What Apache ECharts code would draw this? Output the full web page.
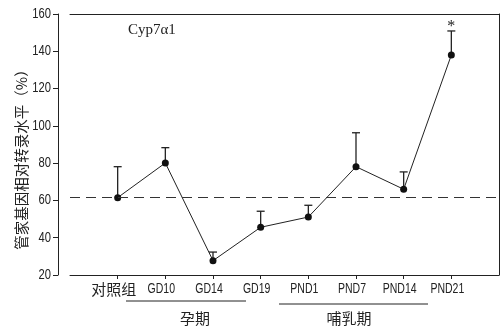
<!DOCTYPE html>
<html>
<head>
<meta charset="utf-8">
<script src="https://cdn.jsdelivr.net/npm/echarts@6/dist/echarts.min.js"></script>
<style>html,body{margin:0;padding:0;background:#fff}#c{width:503px;height:327px}</style>
</head>
<body>
<div id="c"></div>
<script>
var categories = ['对照组', 'GD10', 'GD14', 'GD19', 'PND1', 'PND7', 'PND14', 'PND21'];
var meanValues = [61.5, 80.1, 27.7, 45.6, 51.1, 78.1, 66.0, 138.0];
var upperValues = [78.1, 88.3, 32.3, 54.2, 57.4, 96.3, 75.3, 150.9];
var significance = ['', '', '', '', '', '', '', '*'];
var referenceLevel = 61.6;
var yTicks = [20, 40, 60, 80, 100, 120, 140, 160];

var chart = echarts.init(document.getElementById('c'), null, {renderer: 'canvas'});
var idx = categories.map(function (c, i) { return i; });
var lineData = idx.map(function (i) { return [i, meanValues[i]]; });
var errData = idx.map(function (i) { return [i, meanValues[i], upperValues[i]]; });
var ink = '#222';
var cjk = '"Noto Sans CJK SC", sans-serif';
var sans = '"Liberation Sans", sans-serif';

var baseGraphics = [
  {type: 'text', x: 128, y: 30, style: {text: 'Cyp7α1', fontSize: 15, fontFamily: '"Liberation Serif", serif', fill: ink, verticalAlign: 'middle'}},
  {type: 'text', x: 21, y: 156, rotation: Math.PI / 2,
    style: {text: '管家基因相对转录水平（%）', fontSize: 14.5, fontFamily: cjk, fill: ink, align: 'center', verticalAlign: 'middle'}},
  {type: 'line', shape: {x1: 126, y1: 301, x2: 246, y2: 301}, style: {stroke: ink, lineWidth: 1}},
  {type: 'line', shape: {x1: 279, y1: 304, x2: 428, y2: 304}, style: {stroke: ink, lineWidth: 1}},
  {type: 'text', x: 195, y: 318, style: {text: '孕期', fontSize: 15, fontFamily: cjk, fill: ink, align: 'center', verticalAlign: 'middle'}},
  {type: 'text', x: 349, y: 318, style: {text: '哺乳期', fontSize: 15, fontFamily: cjk, fill: ink, align: 'center', verticalAlign: 'middle'}}
];

var option = {
  animation: false,
  backgroundColor: '#fff',
  grid: {left: 70, right: 4, top: 14, bottom: 52},
  xAxis: [{
    type: 'value', min: -1, max: 8, interval: 1,
    splitLine: {show: false},
    axisLine: {show: true, onZero: false, lineStyle: {color: ink, width: 1}},
    axisTick: {show: true, length: 4, inside: false, customValues: idx, lineStyle: {color: ink}},
    axisLabel: {show: false}
  }, {
    type: 'value', min: -1, max: 8, position: 'top',
    splitLine: {show: false},
    axisLine: {show: true, onZero: false, lineStyle: {color: ink, width: 1}},
    axisTick: {show: false}, axisLabel: {show: false}
  }],
  yAxis: [{
    type: 'value', min: 20, max: 160, interval: 20, offset: 12, position: 'left',
    splitLine: {show: false},
    axisLine: {show: true, onZero: false, lineStyle: {color: ink, width: 1}},
    axisTick: {show: true, length: 5, lineStyle: {color: ink}},
    axisLabel: {show: false}
  }, {
    type: 'value', min: 20, max: 160, position: 'right',
    splitLine: {show: false},
    axisLine: {show: true, onZero: false, lineStyle: {color: ink, width: 1}},
    axisTick: {show: false}, axisLabel: {show: false}
  }],
  series: [{
    type: 'custom',
    name: 'err',
    z: 2,
    renderItem: function (params, api) {
      var x = api.value(0), m = api.value(1), u = api.value(2);
      var p1 = api.coord([x, m]);
      var p2 = api.coord([x, u]);
      var children = [
        {type: 'line', shape: {x1: p1[0], y1: p1[1], x2: p2[0], y2: p2[1]}, style: {stroke: ink, lineWidth: 1.3}},
        {type: 'line', shape: {x1: p2[0] - 4, y1: p2[1], x2: p2[0] + 4, y2: p2[1]}, style: {stroke: ink, lineWidth: 1.3}}
      ];
      var s = significance[params.dataIndex];
      if (s) {
        children.push({type: 'text', style: {text: s, x: p2[0], y: p2[1] - 4, align: 'center', verticalAlign: 'middle',
          fill: ink, fontSize: 16, fontFamily: '"Liberation Serif", serif'}});
      }
      return {type: 'group', children: children};
    },
    data: errData
  }, {
    type: 'line',
    z: 3,
    data: lineData,
    symbol: 'circle', symbolSize: 7,
    itemStyle: {color: '#111'},
    lineStyle: {color: ink, width: 1},
    markLine: {
      silent: true, symbol: 'none', label: {show: false},
      lineStyle: {color: '#333', type: [10, 6], width: 1.2},
      data: [{yAxis: referenceLevel}]
    }
  }],
  graphic: baseGraphics
};
chart.setOption(option);

// category labels placed at the axis tick positions (condensed like the reference)
var labelGraphics = idx.map(function (i) {
  var px = chart.convertToPixel({xAxisIndex: 0}, i);
  var isCjk = /[\u4e00-\u9fff]/.test(categories[i]);
  return {
    type: 'text', x: px - 4, y: 289.5,
    scaleX: isCjk ? 1 : 0.75,
    style: {text: categories[i], fontSize: isCjk ? 15 : 14,
      fontFamily: isCjk ? cjk : sans,
      fill: ink, align: 'center', verticalAlign: 'middle'}
  };
});
// y tick labels at the axis tick positions (condensed like the reference)
var yLabelGraphics = yTicks.map(function (v) {
  var py = chart.convertToPixel({yAxisIndex: 0}, v);
  return {
    type: 'text', x: 51, y: py, scaleX: 0.8,
    style: {text: String(v), fontSize: 14, fontFamily: sans, fill: ink, align: 'right', verticalAlign: 'middle'}
  };
});
chart.setOption({graphic: baseGraphics.concat(labelGraphics, yLabelGraphics)});
</script>
</body>
</html>
